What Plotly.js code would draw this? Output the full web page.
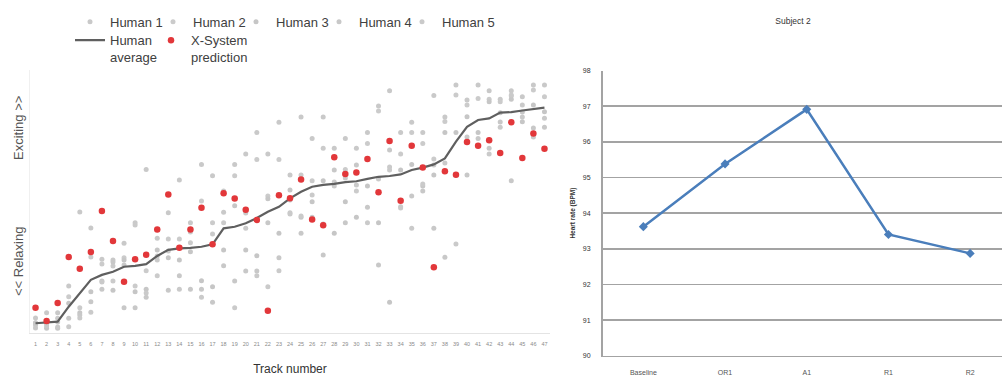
<!DOCTYPE html>
<html>
<head>
<meta charset="utf-8">
<script src="https://cdn.plot.ly/plotly-3.0.1.min.js"></script>
<style>html,body{margin:0;padding:0;background:#fff}#chart{width:1003px;height:376px}</style>
</head>
<body>
<div id="chart"></div>
<script>
// ---- Left chart: listener ratings per track ----
const tracks = [1,2,3,4,5,6,7,8,9,10,11,12,13,14,15,16,17,18,19,20,21,22,23,24,25,26,27,28,29,30,31,32,33,34,35,36,37,38,39,40,41,42,43,44,45,46,47];
const human1 = [0.57,0.77,0.77,1.79,4.60,3.99,2.80,2.78,3.41,4.19,6.22,3.60,4.57,5.82,4.19,6.41,5.98,4.59,6.41,6.81,7.62,6.81,8.01,6.01,8.21,7.40,8.21,7.02,7.40,7.02,7.62,8.63,9.21,7.62,8.01,7.62,9.03,8.21,9.43,8.86,9.43,9.21,8.89,9.21,8.98,9.43,9.43];
const human2 = [0.39,0.37,0.56,1.38,0.96,2.89,2.62,1.98,2.86,1.79,2.37,2.18,3.57,3.57,3.43,5.02,4.19,4.19,5.98,3.98,6.60,5.21,6.60,4.57,6.01,5.79,7.02,5.59,6.22,5.40,7.21,8.44,6.20,6.81,7.62,7.21,6.62,8.04,9.05,8.67,8.92,8.89,8.79,9.01,8.67,9.24,8.98];
const human3 = [0.38,0.18,0.18,1.13,0.77,1.57,1.98,1.63,2.78,1.57,1.66,3.16,2.86,2.78,3.09,1.99,1.76,3.16,4.84,3.16,2.94,5.10,3.79,5.44,4.40,4.99,5.79,3.79,4.99,4.40,5.59,4.19,1.17,6.20,6.41,5.59,6.01,7.62,7.62,8.22,7.62,8.79,8.37,8.89,8.03,8.67,8.41];
const human4 = [0.30,0.38,0.42,0.56,0.68,1.19,1.66,2.70,0.96,0.96,1.36,2.93,1.63,2.18,1.66,1.66,1.17,2.56,1.98,2.36,2.36,4.19,2.86,5.06,3.79,4.40,2.97,6.20,4.19,6.39,4.78,2.59,6.96,4.80,5.21,5.40,3.98,2.88,6.01,6.01,7.40,7.02,8.02,5.79,8.40,7.79,7.82];
const human5 = [0.19,0.27,0.23,0.24,0.57,0.79,1.94,2.55,2.59,4.11,1.52,2.78,3.12,1.66,3.84,1.36,3.76,5.40,0.96,4.56,2.18,1.76,2.37,4.52,4.45,5.25,4.14,5.74,5.89,5.63,4.19,5.86,6.31,4.75,3.98,5.67,6.39,6.46,3.38,7.45,7.11,6.81,7.82,9.05,8.21,7.45,8.17];
const humanAverage = [0.37,0.39,0.43,1.00,1.51,2.02,2.21,2.33,2.52,2.55,2.62,2.93,3.16,3.22,3.24,3.28,3.37,3.98,4.04,4.17,4.37,4.61,4.80,5.12,5.37,5.56,5.63,5.67,5.74,5.77,5.86,5.94,5.97,6.03,6.20,6.29,6.41,6.64,7.28,7.84,8.10,8.16,8.38,8.40,8.46,8.52,8.57];
const xSystem = [0.96,0.46,1.14,2.89,2.44,3.08,4.64,3.50,1.95,2.80,2.98,3.94,5.27,3.24,3.94,4.76,3.37,5.31,5.11,4.69,4.30,0.85,5.24,5.12,5.84,4.32,4.10,6.68,6.05,6.10,6.62,5.35,7.30,5.03,7.12,6.29,2.50,6.15,6.02,7.26,7.12,7.33,6.84,8.01,6.65,7.59,7.01];
const humanNames = ['Human 1','Human 2','Human 3','Human 4','Human 5'];
const humanColors = ['#c9c9c9','#cbcbcb','#c6c6c6','#c8c8c8','#cacaca'];

// ---- Right chart: heart rate ----
const phases = ['Baseline','OR1','A1','R1','R2'];
const heartRate = [93.62, 95.38, 96.91, 93.40, 92.87];

const FONT = 'Liberation Sans, Arial, sans-serif';
const humans = [human1, human2, human3, human4, human5];
const traces = [];
humans.forEach((h, i) => {
  const t = {
    x: tracks, y: h, type: 'scatter', mode: 'markers', name: humanNames[i],
    marker: {color: humanColors[i], size: 5, symbol: 'circle'},
    xaxis: 'x', yaxis: 'y', legend: 'legend', hoverinfo: 'skip'
  };
  if (i === humans.length - 1) t.legendwidth = 70;
  traces.push(t);
});
traces.push({
  x: tracks, y: humanAverage, type: 'scatter', mode: 'lines', name: 'Human<br>average',
  line: {color: '#5f5f5f', width: 2.2}, xaxis: 'x', yaxis: 'y', legend: 'legend2'
});
traces.push({
  x: tracks, y: xSystem, type: 'scatter', mode: 'markers', name: 'X-System<br>prediction',
  marker: {color: '#e2373a', size: 6.5},
  xaxis: 'x', yaxis: 'y', legend: 'legend2', legendwidth: 75
});
traces.push({
  x: phases, y: heartRate, type: 'scatter', mode: 'lines+markers', showlegend: false,
  line: {color: '#4a7ebb', width: 2.5},
  marker: {color: '#4a7ebb', size: 7, symbol: 'diamond'},
  xaxis: 'x2', yaxis: 'y2'
});

const layout = {
  width: 1003, height: 376,
  margin: {l: 0, r: 0, t: 0, b: 0},
  paper_bgcolor: '#ffffff', plot_bgcolor: '#ffffff',
  font: {family: FONT, color: '#404040'},
  title: {text: 'Subject 2', x: 793/1003, xanchor: 'center', y: 1 - 21/376, yanchor: 'middle',
          font: {size: 8.5, color: '#333333', family: FONT}},
  xaxis: {
    domain: [30/1003, 550/1003], anchor: 'y', range: [0.5, 47.5],
    tickmode: 'array', tickvals: tracks, ticktext: tracks.map(String),
    tickfont: {size: 5.5, color: '#8a8a8a'}, ticks: '', ticklabelstandoff: 5,
    showgrid: false, zeroline: false, showline: true, linecolor: '#e4e4e4', linewidth: 1,
    title: {text: 'Track number', font: {size: 12, color: '#333333'}, standoff: 19},
    automargin: false, fixedrange: true
  },
  yaxis: {
    domain: [(376-333)/376, (376-70)/376], anchor: 'x', range: [0, 10],
    showticklabels: false, ticks: '', showgrid: false, zeroline: false,
    showline: true, linecolor: '#f0f0f0', automargin: false, fixedrange: true
  },
  xaxis2: {
    domain: [602.5/1003, 1002/1003], anchor: 'y2', type: 'category', range: [-0.5, 4.39],
    tickfont: {size: 7, color: '#555555'}, ticks: '', ticklabelstandoff: 9,
    showgrid: false, zeroline: false, showline: true, linecolor: '#a3a3a3', linewidth: 1.5,
    automargin: false, fixedrange: true
  },
  yaxis2: {
    domain: [(376-355.7)/376, (376-70.5)/376], anchor: 'x2', range: [90, 98], dtick: 1,
    tickfont: {size: 7, color: '#333333'}, ticks: '', ticklabelstandoff: 9,
    showgrid: true, gridcolor: '#a3a3a3', gridwidth: 1.5, zeroline: false,
    showline: true, linecolor: '#a3a3a3', linewidth: 1.5,
    title: {text: '<b>Heart rate (BPM)</b>', font: {size: 6.5, color: '#333333'}, standoff: 6},
    automargin: false, fixedrange: true
  },
  legend: {
    orientation: 'h', x: 70/1003, xanchor: 'left', y: 1 - 21.7/376, yanchor: 'middle',
    entrywidth: 38, entrywidthmode: 'pixels', itemwidth: 30, bgcolor: 'rgba(0,0,0,0)',
    font: {size: 13, color: '#404040', family: FONT}, traceorder: 'normal'
  },
  legend2: {
    orientation: 'h', x: 70/1003, xanchor: 'left', y: 1 - 48.7/376, yanchor: 'middle',
    entrywidth: 36, entrywidthmode: 'pixels', itemwidth: 30, valign: 'top', bgcolor: 'rgba(0,0,0,0)',
    font: {size: 13, color: '#404040', family: FONT}, traceorder: 'normal'
  },
  annotations: [
    {text: 'Exciting >>', xref: 'paper', yref: 'paper', x: 18/1003, y: 1 - 128/376,
     textangle: -90, showarrow: false, font: {size: 13, color: '#555555'}, xanchor: 'center', yanchor: 'middle'},
    {text: '<< Relaxing', xref: 'paper', yref: 'paper', x: 18/1003, y: 1 - 262/376,
     textangle: -90, showarrow: false, font: {size: 13, color: '#555555'}, xanchor: 'center', yanchor: 'middle'}
  ],
  showlegend: true
};

Plotly.newPlot('chart', traces, layout, {displayModeBar: false, staticPlot: true});
</script>
</body>
</html>
